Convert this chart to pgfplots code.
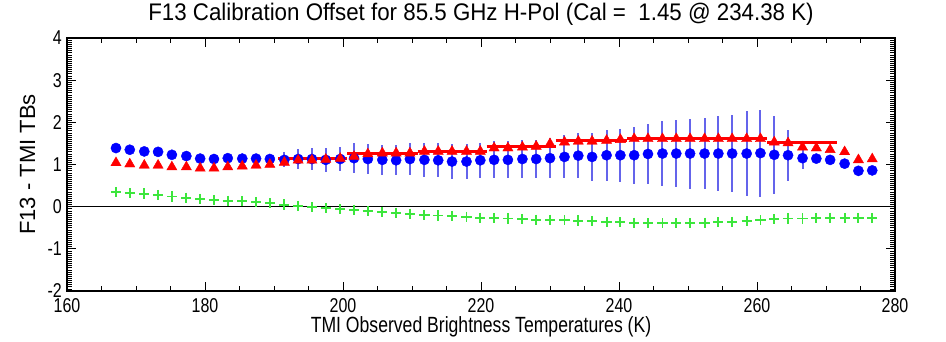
\documentclass[border=0pt]{standalone}
\usepackage{fontspec}
\setmainfont{Liberation Sans}
\newfontfamily\cond{Liberation Sans}[FakeStretch=0.8]
\newfontfamily\condt{Liberation Sans}[FakeStretch=0.93]
\usepackage{pgfplots}
\pgfplotsset{compat=1.18}
\usepackage{pgfplotstable}
\definecolor{cblue}{RGB}{0,0,255}
\definecolor{cred}{RGB}{255,0,0}
\definecolor{cgreen}{RGB}{60,230,60}
\definecolor{cbar}{RGB}{100,100,235}
\pgfplotstableread{
x blue red green
167.1 1.39 1.04 0.35
169.1 1.35 1.01 0.32
171.2 1.31 0.98 0.31
173.2 1.30 0.98 0.28
175.2 1.23 0.94 0.24
177.3 1.20 0.94 0.21
179.3 1.14 0.91 0.19
181.3 1.13 0.91 0.16
183.3 1.15 0.94 0.14
185.4 1.14 0.96 0.13
187.4 1.14 0.98 0.11
189.4 1.13 1.00 0.08
191.5 1.11 1.05 0.05
193.5 1.13 1.10 0.02
195.5 1.13 1.10 -0.01
197.5 1.11 1.12 -0.04
199.6 1.13 1.14 -0.06
201.6 1.15 1.19 -0.08
203.6 1.13 1.25 -0.10
205.7 1.11 1.27 -0.12
207.7 1.10 1.27 -0.15
209.7 1.13 1.27 -0.17
211.8 1.11 1.31 -0.19
213.8 1.10 1.31 -0.21
215.8 1.07 1.31 -0.22
217.9 1.07 1.31 -0.24
219.9 1.10 1.31 -0.26
221.9 1.11 1.39 -0.27
223.9 1.11 1.39 -0.28
226.0 1.13 1.41 -0.29
228.0 1.13 1.43 -0.31
230.0 1.15 1.49 -0.31
232.1 1.18 1.53 -0.32
234.1 1.21 1.55 -0.33
236.1 1.18 1.55 -0.34
238.2 1.22 1.57 -0.36
240.2 1.22 1.59 -0.37
242.2 1.22 1.61 -0.38
244.2 1.25 1.61 -0.39
246.3 1.26 1.61 -0.39
248.3 1.26 1.61 -0.39
250.3 1.26 1.61 -0.39
252.4 1.26 1.61 -0.38
254.4 1.26 1.61 -0.37
256.4 1.26 1.61 -0.36
258.5 1.26 1.61 -0.34
260.5 1.27 1.61 -0.32
262.5 1.23 1.53 -0.30
264.5 1.22 1.51 -0.28
266.6 1.15 1.41 -0.28
268.6 1.14 1.39 -0.27
270.6 1.11 1.35 -0.26
272.7 1.02 1.30 -0.27
274.7 0.85 1.11 -0.27
276.7 0.86 1.13 -0.27
}\maindata
\pgfplotstableread{
x y e
191.5 1.11 0.18
193.5 1.13 0.23
195.5 1.13 0.25
197.5 1.11 0.28
199.6 1.13 0.29
201.6 1.15 0.35
203.6 1.13 0.36
205.7 1.11 0.36
207.7 1.10 0.36
209.7 1.13 0.38
211.8 1.11 0.40
213.8 1.10 0.40
215.8 1.07 0.42
217.9 1.07 0.42
219.9 1.10 0.42
221.9 1.11 0.44
223.9 1.11 0.44
226.0 1.13 0.45
228.0 1.13 0.46
230.0 1.15 0.48
232.1 1.18 0.51
234.1 1.21 0.53
236.1 1.18 0.56
238.2 1.22 0.60
240.2 1.22 0.63
242.2 1.22 0.68
244.2 1.25 0.72
246.3 1.26 0.76
248.3 1.26 0.79
250.3 1.26 0.83
252.4 1.26 0.84
254.4 1.26 0.89
256.4 1.26 0.92
258.5 1.26 1.00
260.5 1.27 1.03
262.5 1.23 0.92
264.5 1.22 0.60
266.6 1.15 0.26
}\errdata
\begin{document}
\begin{tikzpicture}
\begin{axis}[name=ax, width=828pt, height=253pt, scale only axis,
  xmin=160, xmax=280, ymin=-2, ymax=4,
  xtick={160,180,200,220,240,260,280},
  xticklabels={160,180,200,220,240,260,280},
  ytick={-2,-1,0,1,2,3,4},
  yticklabels={-2,-1,0,1,2,3,4},
  minor x tick num=3, minor y tick num=19,
  tick align=inside, major tick length=9pt, minor tick length=5pt,
  axis line style={line width=1.2pt},
  tick style={black, line width=0.9pt},
  minor tick style={black, line width=0.7pt},
  ticklabel style={font=\cond\fontsize{20}{23}\selectfont},
  xticklabel style={anchor=base, inner sep=0pt, yshift=-22pt},
  yticklabel style={anchor=east, inner sep=0pt, xshift=-5pt},
  xlabel={TMI Observed Brightness Temperatures (K)},
  ylabel={F13 - TMI TBs},
  xlabel style={font=\cond\fontsize{22}{26}\selectfont, at={(axis description cs:0.5,-0.166)}, anchor=base},
  ylabel style={font=\fontsize{22}{26}\selectfont, at={(axis description cs:-0.0386,0.5)}, anchor=base},
  title={F13 Calibration Offset for 85.5 GHz H-Pol (Cal =\ \ 1.45 @ 234.38 K)},
  title style={font=\condt\fontsize{24}{28}\selectfont, at={(axis description cs:0.5,1.0474)}, anchor=base},
  clip=false,
]
\addplot[black, line width=1.2pt] coordinates {(160,0) (280,0)};
\addplot[only marks, mark=none, draw=none,
  error bars/.cd, y dir=both, y explicit,
  error bar style={cbar, line width=2pt}, error mark=none]
  table[x=x, y=y, y error=e] {\errdata};
\addplot[only marks, mark=*, mark size=5.1pt, cblue, mark options={draw=cblue, fill=cblue}]
  table[x=x, y=blue] {\maindata};
\addplot[only marks, mark=triangle*, mark size=5.9pt, cred, mark options={draw=cred, fill=cred}]
  table[x=x, y=red] {\maindata};
\addplot[cred, line width=3pt] coordinates {(190.6,1.14) (200.6,1.14)};
\addplot[cred, line width=3pt] coordinates {(200.6,1.26) (210.8,1.26)};
\addplot[cred, line width=3pt] coordinates {(210.8,1.31) (220.8,1.31)};
\addplot[cred, line width=3pt] coordinates {(220.8,1.42) (230.8,1.42)};
\addplot[cred, line width=3pt] coordinates {(230.8,1.56) (241.2,1.56)};
\addplot[cred, line width=3pt] coordinates {(241.2,1.62) (261.5,1.62)};
\addplot[cred, line width=3pt] coordinates {(261.5,1.52) (271.6,1.52)};
\addplot[only marks, mark=+, mark size=5.1pt, cgreen, mark options={line width=1.9pt}]
  table[x=x, y=green] {\maindata};
\end{axis}
\pgfresetboundingbox
\path (ax.south west) +(-67pt,-51pt) (ax.north east) +(51pt,38pt);
\end{tikzpicture}
\end{document}
